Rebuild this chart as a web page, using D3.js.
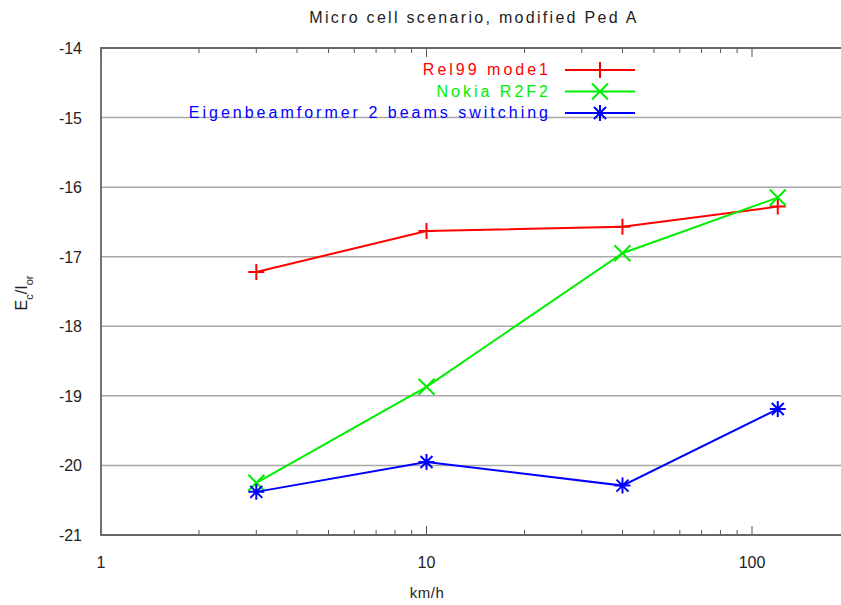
<!DOCTYPE html>
<html>
<head>
<meta charset="utf-8">
<script src="https://cdn.jsdelivr.net/npm/d3@7"></script>
<style>
  body { margin: 0; background: #fff; }
  text { font-family: "Liberation Sans", Arial, sans-serif; }
</style>
</head>
<body>
<div id="chart"></div>
<script>
// speeds (km/h) and Ec/Ior values per scheme
var speeds = [3, 10, 40, 120];
var rel99 = [-17.22, -16.63, -16.57, -16.28];
var nokia = [-20.25, -18.87, -16.95, -16.15];
var eigen = [-20.38, -19.95, -20.29, -19.19];
var seriesNames = ["Rel99 mode1", "Nokia R2F2", "Eigenbeamformer 2 beams switching"];
var yTicks = [-21, -20, -19, -18, -17, -16, -15, -14];
var xTicks = [1, 10, 100];

var width = 841, height = 605;
var svg = d3.select("#chart").append("svg")
    .attr("width", width).attr("height", height);

// decade is about 325.5 px, right edge falls just off the picture
var x = d3.scaleLog().domain([1, 200]).range([101, 101 + Math.log10(200) * 325.5]);
var y = d3.scaleLinear().domain([-21, -14]).range([535, 48]);

var series = [
  { name: seriesNames[0], values: rel99, color: "#ff0000", sym: "plus" },
  { name: seriesNames[1], values: nokia, color: "#00ee00", sym: "cross" },
  { name: seriesNames[2], values: eigen, color: "#0000ff", sym: "star" }
];

// horizontal grid
svg.selectAll(".grid")
    .data(yTicks.slice(1, -1))
    .enter().append("line")
    .attr("x1", x(1)).attr("x2", width)
    .attr("y1", function(d) { return y(d); })
    .attr("y2", function(d) { return y(d); })
    .style("stroke", "#a8a8a8")
    .style("stroke-width", 1.5);

// minor + major ticks on bottom and top
var minor = [];
[1, 10, 100].forEach(function(p) {
  for (var k = 2; k <= 9; k++) if (p * k <= 200) minor.push(p * k);
});
[y(-21), y(-14)].forEach(function(yy, i) {
  var dir = i == 0 ? -1 : 1;
  svg.selectAll(null).data(minor).enter().append("line")
    .attr("x1", function(d) { return x(d); }).attr("x2", function(d) { return x(d); })
    .attr("y1", yy).attr("y2", yy + dir * 5)
    .style("stroke", "#555").style("stroke-width", 1);
  svg.selectAll(null).data(xTicks).enter().append("line")
    .attr("x1", function(d) { return x(d); }).attr("x2", function(d) { return x(d); })
    .attr("y1", yy).attr("y2", yy + dir * 9)
    .style("stroke", "#555").style("stroke-width", 1);
});

// frame
svg.append("path")
    .attr("d", "M" + width + "," + y(-14) + "H" + x(1) + "V" + y(-21) + "H" + width)
    .style("fill", "none").style("stroke", "#666").style("stroke-width", 1.8);

// tick labels
svg.selectAll(".ylab").data(yTicks).enter().append("text")
    .attr("x", 82).attr("y", function(d) { return y(d) + 6; })
    .attr("text-anchor", "end")
    .style("font-size", "16px").style("fill", "#222")
    .text(function(d) { return d; });

svg.selectAll(".xlab").data(xTicks).enter().append("text")
    .attr("x", function(d) { return x(d); }).attr("y", 568)
    .attr("text-anchor", "middle")
    .style("font-size", "16px").style("fill", "#222")
    .text(function(d) { return d; });

svg.append("text").attr("x", 474).attr("y", 23)
    .attr("text-anchor", "middle")
    .style("font-size", "16px").style("letter-spacing", "2.3px").style("fill", "#222")
    .text("Micro cell scenario, modified Ped A");

svg.append("text").attr("x", 427).attr("y", 598)
    .attr("text-anchor", "middle")
    .style("font-size", "15px").style("letter-spacing", "0.5px").style("fill", "#222")
    .text("km/h");

var yl = svg.append("text")
    .attr("transform", "translate(27,293) rotate(-90)")
    .attr("text-anchor", "middle")
    .style("font-size", "16px").style("fill", "#222");
yl.append("tspan").text("E");
yl.append("tspan").attr("baseline-shift", "sub").style("font-size", "11px").text("c");
yl.append("tspan").text("/I");
yl.append("tspan").attr("baseline-shift", "sub").style("font-size", "11px").text("or");

// marker shapes
function marker(g, sym, cx, cy, color) {
  var s = 8, d;
  if (sym == "plus") d = "M" + (cx - s) + "," + cy + "h" + 2 * s + "M" + cx + "," + (cy - s) + "v" + 2 * s;
  else if (sym == "cross") d = "M" + (cx - s) + "," + (cy - s) + "l" + 2 * s + "," + 2 * s + "M" + (cx - s) + "," + (cy + s) + "l" + 2 * s + "," + -2 * s;
  else d = "M" + (cx - s) + "," + cy + "h" + 2 * s + "M" + cx + "," + (cy - s) + "v" + 2 * s +
           "M" + (cx - s * 0.75) + "," + (cy - s * 0.75) + "l" + 1.5 * s + "," + 1.5 * s +
           "M" + (cx - s * 0.75) + "," + (cy + s * 0.75) + "l" + 1.5 * s + "," + -1.5 * s;
  g.append("path").attr("d", d)
    .style("stroke", color).style("stroke-width", 2).style("fill", "none");
}

var line = d3.line()
    .x(function(d) { return x(d[0]); })
    .y(function(d) { return y(d[1]); });

series.forEach(function(s, i) {
  var pts = speeds.map(function(v, j) { return [v, s.values[j]]; });
  var g = svg.append("g");
  g.append("path").attr("d", line(pts))
    .style("fill", "none").style("stroke", s.color).style("stroke-width", 2);
  pts.forEach(function(p) { marker(g, s.sym, x(p[0]), y(p[1]), s.color); });

  // legend entry
  var ly = 70 + i * 21.5;
  svg.append("text").attr("x", 551).attr("y", ly + 5)
    .attr("text-anchor", "end")
    .style("font-size", "16px").style("letter-spacing", "3px")
    .style("fill", s.color)
    .text(s.name);
  svg.append("line").attr("x1", 565).attr("x2", 635)
    .attr("y1", ly).attr("y2", ly)
    .style("stroke", s.color).style("stroke-width", 2);
  marker(svg, s.sym, 600, ly, s.color);
});
</script>
</body>
</html>
